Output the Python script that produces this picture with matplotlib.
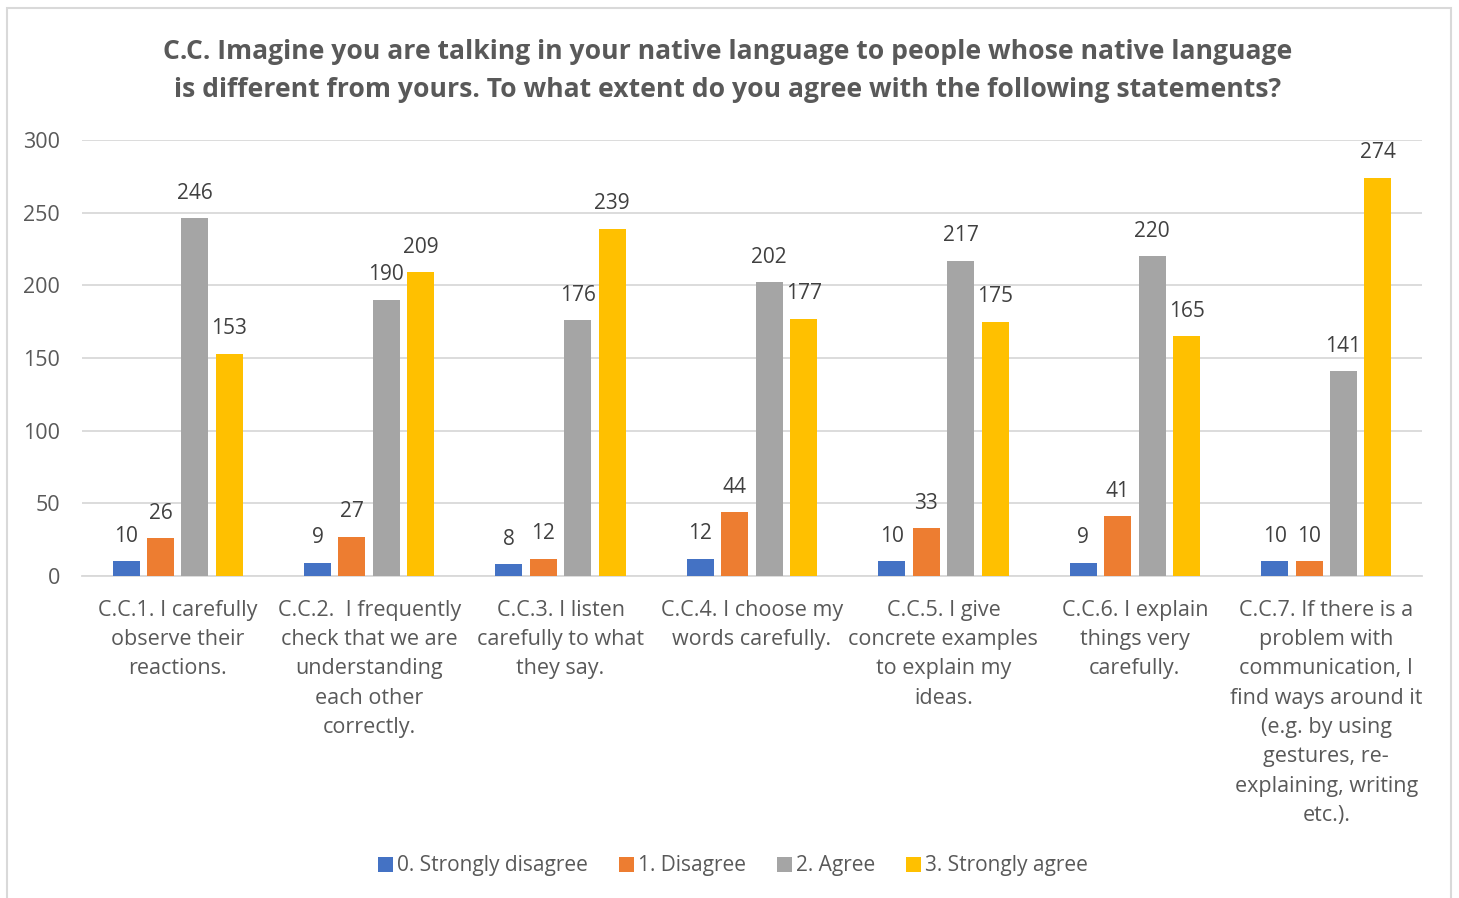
import matplotlib.pyplot as plt
import numpy as np
from matplotlib.patches import Rectangle

categories = [
    "C.C.1. I carefully\nobserve their\nreactions.",
    "C.C.2.  I frequently\ncheck that we are\nunderstanding\neach other\ncorrectly.",
    "C.C.3. I listen\ncarefully to what\nthey say.",
    "C.C.4. I choose my\nwords carefully.",
    "C.C.5. I give\nconcrete examples\nto explain my\nideas.",
    "C.C.6. I explain\nthings very\ncarefully.",
    "C.C.7. If there is a\nproblem with\ncommunication, I\nfind ways around it\n(e.g. by using\ngestures, re-\nexplaining, writing\netc.).",
]
series_names = ["0. Strongly disagree", "1. Disagree", "2. Agree", "3. Strongly agree"]
strongly_disagree = [10, 9, 8, 12, 10, 9, 10]
disagree = [26, 27, 12, 44, 33, 41, 10]
agree = [246, 190, 176, 202, 217, 220, 141]
strongly_agree = [153, 209, 239, 177, 175, 165, 274]
colors = ["#4472C4", "#ED7D31", "#A5A5A5", "#FFC000"]

title = ("C.C. Imagine you are talking in your native language to people whose native language\n"
         "is different from yours. To what extent do you agree with the following statements?")

plt.rcParams['font.family'] = ['Open Sans', 'DejaVu Sans']

fig = plt.figure(figsize=(14.59, 8.98), dpi=100)
# chart frame, open at the bottom edge
fig.patches.append(Rectangle((7 / 1459, -0.05), 1444 / 1459, 1.05 - 8 / 898,
                             transform=fig.transFigure, fill=False,
                             edgecolor="#D9D9D9", linewidth=1.5))

ax = fig.add_axes([82 / 1459, 1 - 576 / 898, 1340 / 1459, 436 / 898])

x = np.arange(len(categories))
w = 0.141
step = 0.18
all_series = [strongly_disagree, disagree, agree, strongly_agree]
for i, (vals, name, c) in enumerate(zip(all_series, series_names, colors)):
    offs = (i - 1.5) * step
    bars = ax.bar(x + offs, vals, w, color=c, label=name, zorder=3)
    for b, v in zip(bars, vals):
        ax.text(b.get_x() + b.get_width() / 2, v + 10, str(v),
                ha="center", va="bottom", fontsize=15, color="#404040")

ax.set_xlim(-0.5, len(categories) - 0.5)
ax.set_ylim(0, 300)
ax.set_yticks(range(0, 301, 50))
ax.yaxis.grid(True, color="#D9D9D9", linewidth=1.3, zorder=0)
ax.set_axisbelow(True)
for s in ["top", "right", "left"]:
    ax.spines[s].set_visible(False)
ax.spines["bottom"].set_color("#D9D9D9")
ax.spines["bottom"].set_linewidth(1.3)
ax.tick_params(axis="both", length=0, labelsize=15.5, labelcolor="#595959")
ax.tick_params(axis="y", pad=16)
ax.tick_params(axis="x", pad=17)
ax.set_xticks(x)
ax.set_xticklabels(categories, linespacing=1.52)

fig.text(0.499, 1 - 71 / 898, title, ha="center", va="center",
         fontsize=19.1, fontweight="bold", color="#595959", linespacing=1.6)

fig.legend(loc="center", bbox_to_anchor=(733 / 1459, 1 - 866 / 898), ncol=4,
           frameon=False, fontsize=15, labelcolor="#595959",
           handlelength=0.7, handleheight=0.7, handletextpad=0.2,
           columnspacing=1.5)

fig.savefig("out.png", dpi=100)
